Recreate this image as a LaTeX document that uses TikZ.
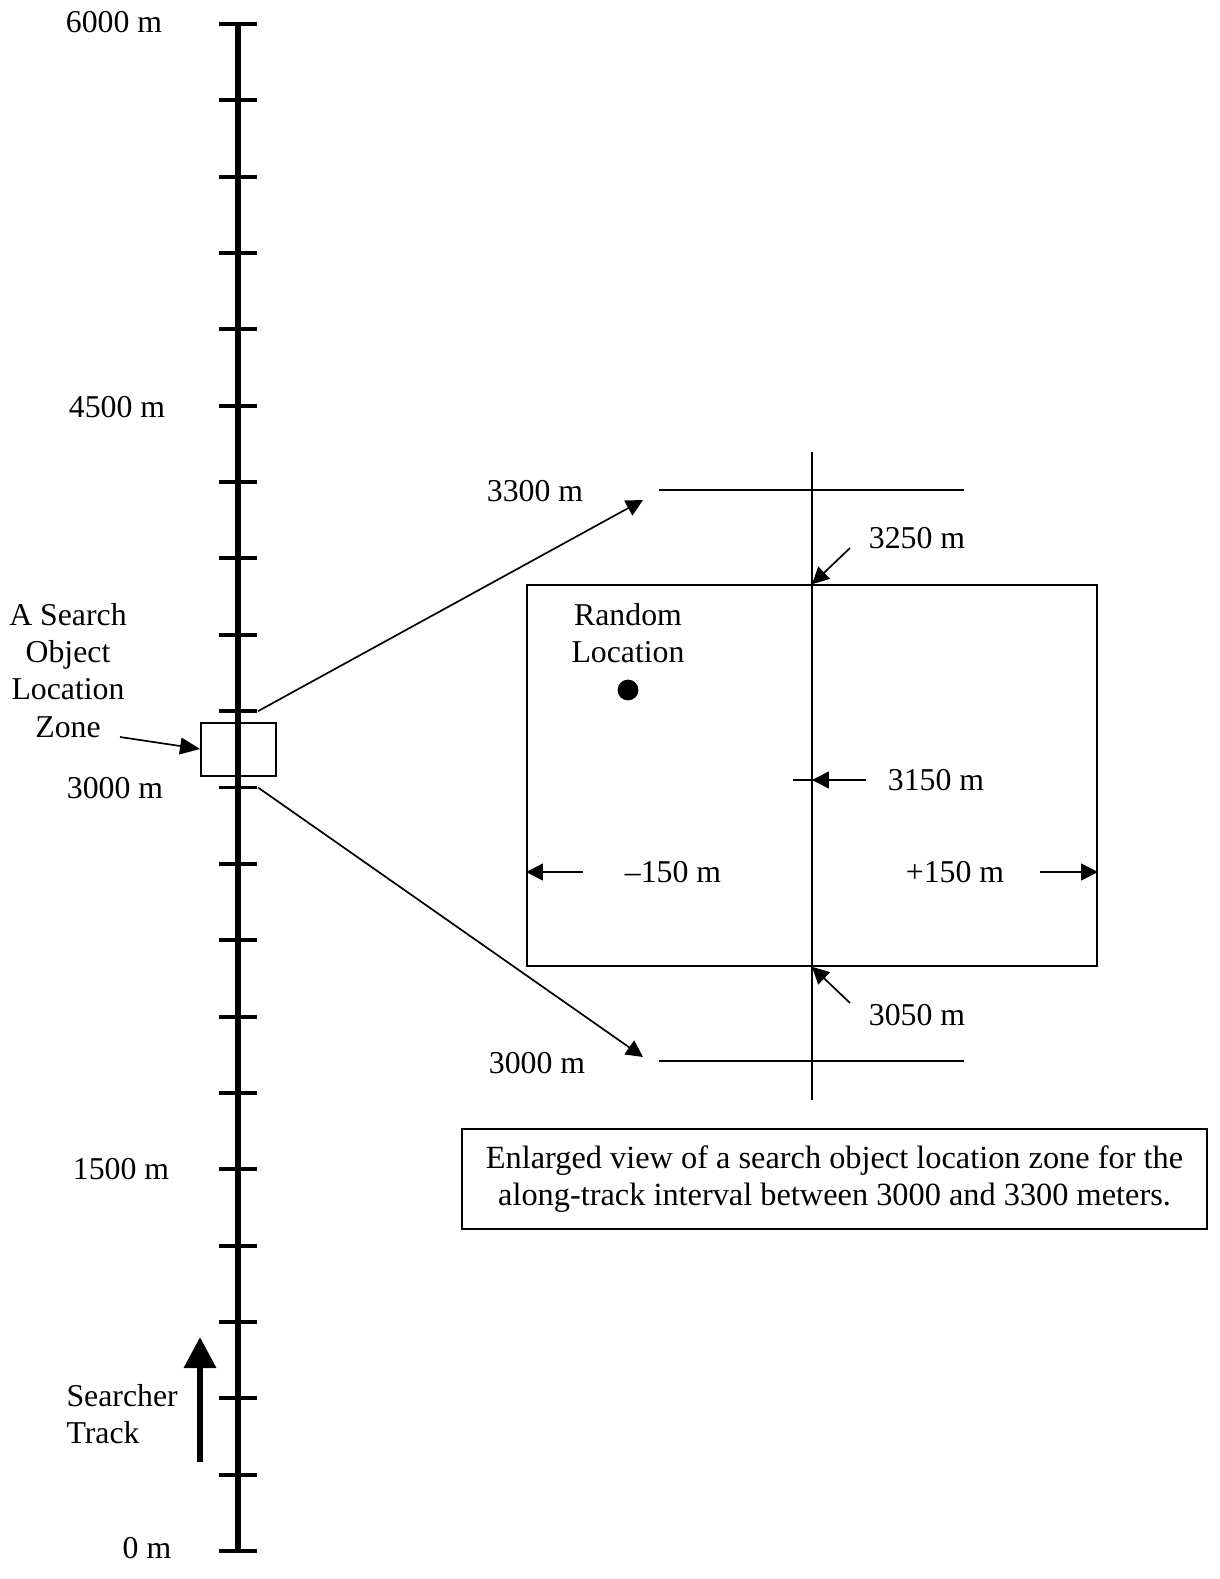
\documentclass[tikz,border=0pt]{standalone}
\usepackage{fontspec}
\setmainfont{Liberation Serif}
\usetikzlibrary{arrows.meta}

\begin{document}
\begin{tikzpicture}[
    x=0.0125cm, y=-0.0125cm,
    every node/.style={font=\fontsize{11.3}{13.2}\selectfont, inner sep=0pt, align=center},
    track/.style={line width=1.8pt},
    trackmark/.style={line width=1.4pt},
    fine/.style={line width=0.6pt},
    box/.style={draw, fine, rectangle},
    arrow/.style={fine, -{Triangle[length=0.21cm, width=0.21cm]}},
    bigarrow/.style={line width=2.4pt, -{Triangle[length=0.39cm, width=0.39cm]}}
]
\useasboundingbox (0,0) rectangle (1220,1579);

% Searcher track with a mark every 300 m
\draw[track] (238,24) -- (238,1551);
\foreach \k in {0,...,20} {
    \draw[trackmark] (219,{24+\k*76.35}) -- (257,{24+\k*76.35});
    \coordinate (t\k) at (258,{24+\k*76.35});
}

% Track labels
\node (m6000) at (114,22) {6000 m};
\node (m4500) at (117,407) {4500 m};
\node (m3000) at (115,788) {3000 m};
\node (m1500) at (121,1169) {1500 m};
\node (m0) at (147,1548) {0 m};

% Location zone on the track
\node[box, minimum width=0.94cm, minimum height=0.66cm] (zone) at (238.5,749.5) {};
\node (zonelbl) at (68,670.5) {A Search\\Object\\Location\\Zone};
\coordinate (zonefrom) at (120,737);
\draw[fine, -{Triangle[length=0.25cm, width=0.21cm]}] (zonefrom) -- (zone.west |- 0,749);

% Searcher direction
\node[align=left, anchor=west] (searcher) at (66,1414) {Searcher\\Track};
\coordinate (sfrom) at (200,1462);
\coordinate (sto) at (200,1337);
\draw[bigarrow] (sfrom) -- (sto);

% Enlarged view
\coordinate (topL) at (659,490);
\coordinate (topR) at (964,490);
\coordinate (botL) at (659,1061);
\coordinate (botR) at (964,1061);
\coordinate (midT) at (812,452);
\coordinate (midB) at (812,1100);
\draw[fine] (topL) -- (topR);
\draw[fine] (botL) -- (botR);
\draw[fine] (midT) -- (midB);
\node[box, minimum width=7.125cm, minimum height=4.76cm] (zoombox) at (812,775.5) {};

\node (lbl3300) at (535,491) {3300 m};
\node (lbl3000) at (537,1063) {3000 m};
\coordinate (topin) at (643,500);
\coordinate (botin) at (643,1057);
\draw[arrow] (t9) -- (topin);
\draw[arrow] (t10) -- (botin);

% Zone limits
\node (lbl3250) at (917,538) {3250 m};
\coordinate (from3250) at (850,548);
\draw[arrow] (from3250) -- (zoombox.north);
\node (lbl3050) at (917,1015) {3050 m};
\coordinate (from3050) at (850,1003);
\draw[arrow] (from3050) -- (zoombox.south);

\node (lbl3150) at (936,780) {3150 m};
\coordinate (mark3150) at (793,780);
\coordinate (from3150) at (866,780);
\draw[fine] (mark3150) -- (812,780);
\draw[arrow] (from3150) -- (812,780);

\node (minus) at (673,872) {\textendash150 m};
\coordinate (fromminus) at (583,872);
\draw[arrow] (fromminus) -- (zoombox.west |- minus);
\node (plus) at (955,872) {+150 m};
\coordinate (fromplus) at (1040,872);
\draw[arrow] (fromplus) -- (zoombox.east |- plus);

% Random location
\node (randlbl) at (628,633) {Random\\Location};
\node[circle, fill, minimum size=0.26cm] (dot) at (628,690) {};

% Caption
\node[box, minimum width=9.31cm, minimum height=1.25cm, font=\fontsize{11.5}{13.2}\selectfont] (caption) at (834.5,1179)
    {Enlarged view of a search object location zone for the\\along-track interval between 3000 and 3300 meters.};

\end{tikzpicture}
\end{document}
